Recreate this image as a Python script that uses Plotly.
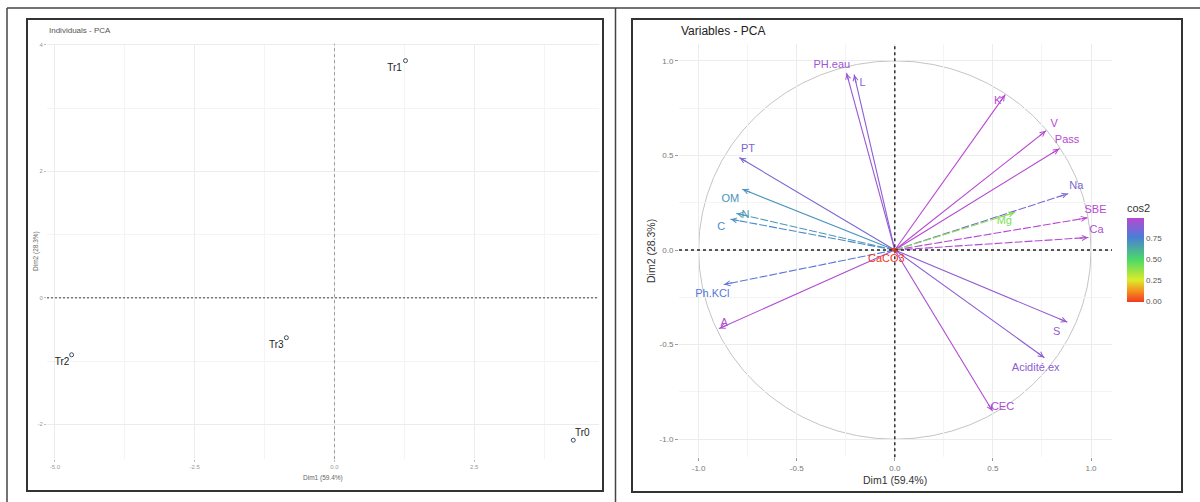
import plotly.graph_objects as go
from plotly.colors import sample_colorscale

# ---------------- data ----------------
# Individuals (PCA scores)
ind_names = ["Tr0", "Tr1", "Tr2", "Tr3"]
ind_dim1 = [4.27, 1.27, -4.70, -0.86]
ind_dim2 = [-2.25, 3.75, -0.90, -0.63]
# repelled label positions (data units)
ind_label_x = [4.43, 1.075, -4.87, -1.04]
ind_label_y = [-2.14, 3.62, -1.02, -0.756]

# Variables (correlation circle coordinates)
var_names = ["PH.eau", "L", "K", "V", "Pass", "Na", "SBE", "Mg", "Ca", "S",
             "Acidité.ex", "CEC", "A", "Ph.KCl", "C", "N", "OM", "PT", "CaCO3"]
var_dim1 = [-0.246, -0.207, 0.562, 0.770, 0.838, 0.882, 0.980, 0.611, 0.985, 0.878,
            0.761, 0.497, -0.895, -0.870, -0.836, -0.806, -0.776, -0.791, -0.020]
var_dim2 = [0.935, 0.926, 0.820, 0.630, 0.535, 0.298, 0.170, 0.198, 0.066, -0.381,
            -0.568, -0.850, -0.415, -0.182, 0.163, 0.193, 0.321, 0.488, 0.010]
# repelled label positions (data units)
var_label_x = [-0.321, -0.165, 0.524, 0.812, 0.878, 0.925, 1.023, 0.558, 1.028, 0.825,
               0.718, 0.549, -0.870, -0.930, -0.885, -0.761, -0.838, -0.748, -0.043]
var_label_y = [0.975, 0.882, 0.786, 0.663, 0.579, 0.339, 0.211, 0.154, 0.102, -0.433,
               -0.626, -0.832, -0.386, -0.232, 0.119, 0.186, 0.270, 0.532, -0.047]

x_ticks_ind = [-5, -2.5, 0, 2.5]
x_ticktext_ind = ["-5.0", "-2.5", "0.0", "2.5"]
y_ticks_ind = [-2, 0, 2, 4]
y_ticktext_ind = ["-2", "0", "2", "4"]
var_ticks = [-1, -0.5, 0, 0.5, 1]
var_ticktext = ["-1.0", "-0.5", "0.0", "0.5", "1.0"]
cbar_ticks = [0, 0.25, 0.5, 0.75]
cbar_ticktext = ["0.00", "0.25", "0.50", "0.75"]

# ---------------- styles ----------------
W, H = 1200, 502
def fx(px):
    return px / W
def fy(py):
    return 1 - py / H

FONT = "Liberation Sans, Arial, sans-serif"
NARROW = "Liberation Sans Narrow, Liberation Sans, Arial, sans-serif"
colorscale = [[0.0, "#F03A22"], [0.12, "#F68A1E"], [0.26, "#DCEB2A"],
              [0.50, "#4CDA66"], [0.77, "#4A7FD6"], [1.0, "#B648D2"]]
dashed_vars = {"Na", "Mg", "Ph.KCl", "N", "C", "SBE", "Ca"}

cos2 = [a * a + b * b for a, b in zip(var_dim1, var_dim2)]
cmax = max(cos2)
var_colors = sample_colorscale(colorscale, [c / cmax for c in cos2])

fig = go.Figure()

# ---- left: individuals ----
fig.add_trace(go.Scatter(
    x=ind_dim1, y=ind_dim2, mode="markers", xaxis="x", yaxis="y",
    marker=dict(symbol="circle-open", size=4, color="#3b4d5a", line=dict(width=1)),
    showlegend=False, hoverinfo="skip"))
fig.add_trace(go.Scatter(
    x=ind_label_x, y=ind_label_y, mode="text", text=ind_names, xaxis="x", yaxis="y",
    textfont=dict(family=NARROW, size=10, color="#222"),
    showlegend=False, hoverinfo="skip"))

# ---- right: variables ----
annotations = []
for name, x, y, col in zip(var_names, var_dim1, var_dim2, var_colors):
    fig.add_trace(go.Scatter(
        x=[0, x], y=[0, y], mode="lines", xaxis="x2", yaxis="y2",
        line=dict(color=col, width=1.1,
                  dash="8px,2px" if name in dashed_vars else "solid"),
        showlegend=False, hoverinfo="skip"))
    r = (x * x + y * y) ** 0.5
    annotations.append(dict(
        x=x, y=y, ax=x - 0.05 * x / r, ay=y - 0.05 * y / r,
        xref="x2", yref="y2", axref="x2", ayref="y2", text="",
        showarrow=True, arrowhead=5, arrowsize=0.9, arrowwidth=1.1,
        arrowcolor=col, standoff=0))

fig.add_trace(go.Scatter(
    x=var_label_x, y=var_label_y, mode="text", text=var_names, xaxis="x2", yaxis="y2",
    textfont=dict(family=FONT, size=11, color=var_colors),
    showlegend=False, hoverinfo="skip"))

# colour bar carrier
fig.add_trace(go.Scatter(
    x=var_dim1, y=var_dim2, mode="markers", xaxis="x2", yaxis="y2",
    marker=dict(size=1, color=cos2, colorscale=colorscale, cmin=0, cmax=cmax,
                showscale=True,
                colorbar=dict(
                    x=fx(1127), xanchor="left", y=fy(250), yanchor="middle",
                    len=101, lenmode="pixels", thickness=17, outlinewidth=0,
                    xpad=0, ypad=0, tickvals=cbar_ticks, ticktext=cbar_ticktext,
                    ticks="", tickfont=dict(family=FONT, size=8, color="#555"),
                    title=dict(text="cos2", side="top",
                               font=dict(family=FONT, size=11, color="#333")))),
    showlegend=False, hoverinfo="skip"))

# ---------------- axes ----------------
grid = "#ececec"
minor_grid = "#f4f4f4"
fig.update_layout(
    width=W, height=H, margin=dict(l=0, r=0, t=0, b=0),
    paper_bgcolor="white", plot_bgcolor="white",
    font=dict(family=FONT),
    xaxis=dict(domain=[fx(47), fx(599)], range=[-5.14, 4.73], anchor="y",
               tickmode="array", tickvals=x_ticks_ind, ticktext=x_ticktext_ind,
               showgrid=True, gridcolor=grid, zeroline=False, showline=False,
               ticks="outside", ticklen=2, tickcolor="#bbb",
               tickfont=dict(family=NARROW, size=6, color="#999"),
               minor=dict(tickvals=[-3.75, -1.25, 1.25, 3.75], showgrid=True,
                          gridcolor=minor_grid)),
    yaxis=dict(domain=[fy(459), fy(42)], range=[-2.55, 4.016], anchor="x",
               tickmode="array", tickvals=y_ticks_ind, ticktext=y_ticktext_ind,
               showgrid=True, gridcolor=grid, zeroline=False, showline=False,
               ticks="outside", ticklen=2, tickcolor="#bbb",
               tickfont=dict(family=NARROW, size=6, color="#999"),
               minor=dict(tickvals=[-1, 1, 3], showgrid=True, gridcolor=minor_grid)),
    xaxis2=dict(domain=[fx(679), fx(1112)], range=[-1.10, 1.107], anchor="y2",
                tickmode="array", tickvals=var_ticks, ticktext=var_ticktext,
                showgrid=True, gridcolor=grid, zeroline=False, showline=False,
                ticks="outside", ticklen=3, tickcolor="#999",
                tickfont=dict(family=FONT, size=8, color="#777"),
                minor=dict(tickvals=[-0.75, -0.25, 0.25, 0.75], showgrid=True,
                           gridcolor=minor_grid)),
    yaxis2=dict(domain=[fy(457), fy(42)], range=[-1.095, 1.09], anchor="x2",
                tickmode="array", tickvals=var_ticks, ticktext=var_ticktext,
                showgrid=True, gridcolor=grid, zeroline=False, showline=False,
                ticks="outside", ticklen=3, tickcolor="#999",
                tickfont=dict(family=FONT, size=8, color="#777"),
                minor=dict(tickvals=[-0.75, -0.25, 0.25, 0.75], showgrid=True,
                           gridcolor=minor_grid)),
)

# ---------------- shapes ----------------
shapes = [
    # correlation circle
    dict(type="circle", xref="x2", yref="y2", x0=-1, x1=1, y0=-1, y1=1,
         line=dict(color="#c4c4c4", width=1), layer="below"),
    # left reference lines
    dict(type="line", xref="x", yref="y domain", x0=0, x1=0, y0=0, y1=1,
         line=dict(color="#9a9a9a", width=1, dash="3px,3px")),
    dict(type="line", xref="x domain", yref="y", x0=0, x1=1, y0=0, y1=0,
         line=dict(color="#7a7a7a", width=1.5, dash="2px,2px")),
    # right reference lines
    dict(type="line", xref="x2", yref="y2 domain", x0=0, x1=0, y0=0, y1=1,
         line=dict(color="#222", width=1.4, dash="3px,3px")),
    dict(type="line", xref="x2 domain", yref="y2", x0=0, x1=1, y0=0, y1=0,
         line=dict(color="#222", width=1.4, dash="3px,3px")),
    # panel frames
    dict(type="rect", xref="paper", yref="paper", x0=fx(27), x1=fx(603), y0=fy(491), y1=fy(17),
         line=dict(color="#333", width=2)),
    dict(type="rect", xref="paper", yref="paper", x0=fx(632), x1=fx(1182), y0=fy(492), y1=fy(17),
         line=dict(color="#333", width=2)),
    # outer table lines
    dict(type="line", xref="paper", yref="paper", x0=fx(7), x1=1, y0=fy(6), y1=fy(6),
         line=dict(color="#444", width=1.5)),
    dict(type="line", xref="paper", yref="paper", x0=fx(7), x1=fx(7), y0=0, y1=fy(6),
         line=dict(color="#444", width=1.5)),
    dict(type="line", xref="paper", yref="paper", x0=fx(615.5), x1=fx(615.5), y0=0, y1=fy(6),
         line=dict(color="#444", width=1.5)),
]

# ---------------- titles ----------------
annotations += [
    dict(text="Individuals - PCA", x=fx(47), y=fy(29), xref="paper", yref="paper",
         xanchor="left", yanchor="middle", showarrow=False,
         font=dict(family=NARROW, size=8, color="#555")),
    dict(text="Dim1 (59.4%)", x=fx(323), y=fy(478), xref="paper", yref="paper",
         xanchor="center", yanchor="middle", showarrow=False,
         font=dict(family=NARROW, size=6.5, color="#666")),
    dict(text="Dim2 (28.3%)", x=fx(36), y=fy(250), xref="paper", yref="paper",
         xanchor="center", yanchor="middle", showarrow=False, textangle=-90,
         font=dict(family=NARROW, size=6.5, color="#666")),
    dict(text="Variables - PCA", x=fx(679), y=fy(29), xref="paper", yref="paper",
         xanchor="left", yanchor="middle", showarrow=False,
         font=dict(family=FONT, size=12, color="#222")),
    dict(text="Dim1 (59.4%)", x=fx(895), y=fy(480), xref="paper", yref="paper",
         xanchor="center", yanchor="middle", showarrow=False,
         font=dict(family=FONT, size=10.5, color="#333")),
    dict(text="Dim2 (28.3%)", x=fx(651), y=fy(250), xref="paper", yref="paper",
         xanchor="center", yanchor="middle", showarrow=False, textangle=-90,
         font=dict(family=FONT, size=10.5, color="#333")),
]

fig.update_layout(shapes=shapes, annotations=annotations)
fig.write_html("out.html", config={"displayModeBar": False},
               post_script="document.body.style.margin='0px';")
